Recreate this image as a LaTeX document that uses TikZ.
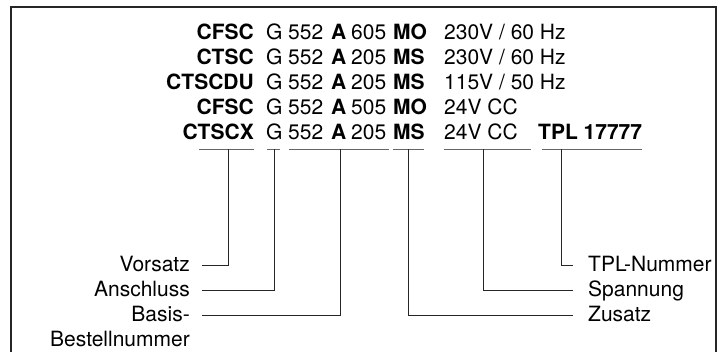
\documentclass[tikz,border=0pt]{standalone}
\usepackage{fontspec}
\setmainfont{TeX Gyre Heros}
\begin{document}
\begin{tikzpicture}[x=1pt,y=-1pt,
    txt/.style={inner sep=0pt,font=\fontsize{21}{25}\selectfont,text=black},
    lbl/.style={inner sep=2pt,text height=15pt,text depth=4pt,font=\fontsize{21}{25}\selectfont,text=black},
    uline/.style={black!60,line width=1pt},
    conn/.style={black!85,line width=0.9pt}]
  \useasboundingbox (0,0) rectangle (728,351);
  \draw[line width=2pt,black!85] (11,352) -- (11,7) -- (716,7) -- (716,352);
  \foreach \i/\pre/\num/\suf/\volt in {1/CFSC/605/MO/{230V / 60 Hz},2/CTSC/205/MS/{230V / 60 Hz},
      3/CTSCDU/205/MS/{115V / 50 Hz},4/CFSC/505/MO/{24V CC},5/CTSCX/205/MS/{24V CC}}{
    \node[txt,anchor=base east] (pre\i) at (254,{14+25*\i}) {\bfseries\pre};
    \node[txt,anchor=base west] (g\i) at (266,{14+25*\i}) {G};
    \node[txt,anchor=base west] (base\i) at (288,{14+25*\i}) {552};
    \node[txt,anchor=base west] (a\i) at (331,{14+25*\i}) {\bfseries A};
    \node[txt,anchor=base west] (num\i) at (351,{14+25*\i}) {\num};
    \node[txt,anchor=base west] (suf\i) at (393,{14+25*\i}) {\bfseries\suf};
    \node[txt,anchor=base west] (volt\i) at (444,{14+25*\i}) {\volt};
  }
  \node[txt,anchor=base west] (tpl) at (538,139) {\bfseries TPL 17777};
  \foreach \n/\a/\b/\t in {pre/199/254/228,g/267/280/274,base/289/389/340,suf/393/424/408,volt/444/531/483,tpl/542/642/561}{
    \draw[uline] (\a,149) -- (\b,149);
    \coordinate (t\n) at (\t,149);
  }
  \node[lbl,anchor=base east] (vorsatz) at (192,271) {Vorsatz};
  \node[lbl,anchor=base east] (anschluss) at (192,296) {Anschluss};
  \node[lbl,anchor=base east] (basis) at (192,321) {Basis-};
  \node[lbl,anchor=base east] (bestell) at (192,346) {Bestellnummer};
  \node[lbl,anchor=base west] (tplnr) at (586,271) {TPL-Nummer};
  \node[lbl,anchor=base west] (spannung) at (586,296) {Spannung};
  \node[lbl,anchor=base west] (zusatz) at (586,321) {Zusatz};
  \draw[conn] (tpre) |- ([xshift=10pt]vorsatz.east);
  \draw[conn] (tg) |- ([xshift=10pt]anschluss.east);
  \draw[conn] (tbase) |- ([xshift=10pt]basis.east);
  \draw[conn] (tsuf) |- ([xshift=-13pt]zusatz.west);
  \draw[conn] (tvolt) |- ([xshift=-13pt]spannung.west);
  \draw[conn] (ttpl) |- ([xshift=-13pt]tplnr.west);
\end{tikzpicture}
\end{document}
